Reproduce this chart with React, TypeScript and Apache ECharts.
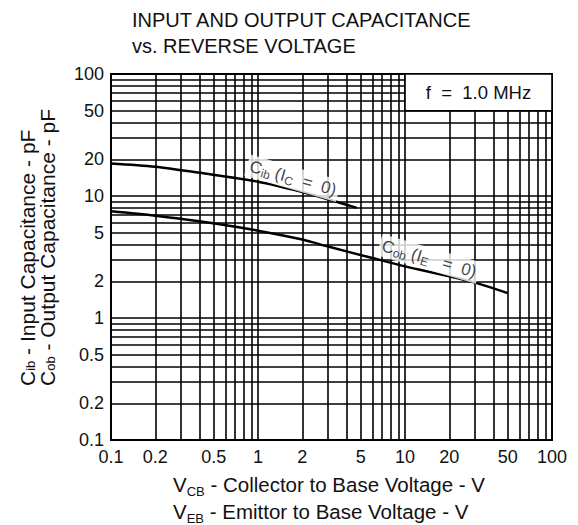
import { useEffect, useRef } from "react";
import * as echarts from "echarts";

// ---- data ----
const titleText = "INPUT AND OUTPUT CAPACITANCE\nvs. REVERSE VOLTAGE";
const tickLabelValues = [0.1, 0.2, 0.5, 1, 2, 5, 10, 20, 50, 100];
const gridValues = [
  0.1, 0.2, 0.3, 0.4, 0.5, 0.6, 0.7, 0.8, 0.9,
  1, 2, 3, 4, 5, 6, 7, 8, 9,
  10, 20, 30, 40, 50, 60, 70, 80, 90, 100,
];
const cibVoltage = [0.1, 0.2, 0.4, 1, 2, 3, 4.7];
const cibCap = [18.5, 17.4, 15.5, 13.1, 10.8, 9.4, 8.0];
const cobVoltage = [0.1, 0.2, 0.4, 1, 2, 3, 6, 10, 20, 30, 50];
const cobCap = [7.5, 6.9, 6.2, 5.2, 4.4, 3.85, 3.1, 2.65, 2.2, 1.95, 1.6];
const cibLabelAt = [1.73, 14.0];
const cobLabelAt = [14.6, 3.05];
const freqBoxFrom = [10, 50];
const freqBoxTo = [100, 100];
const freqLabel = "f  =  1.0 MHz";
const xTitle = "V{s|CB} - Collector to Base Voltage - V\nV{s|EB} - Emittor to Base Voltage - V";
const yTitle = "C{s|ib} - Input Capacitance - pF\nC{s|ob} - Output Capacitance - pF";
const cibLabel = "C{s|ib} (I{s|C}  =  0)";
const cobLabel = "C{s|ob} (I{s|E}   =  0)";

const FONT = "'Liberation Sans', Arial, Helvetica, sans-serif";

export default function App() {
  const ref = useRef<HTMLDivElement>(null);
  useEffect(() => {
    if (!ref.current) return;
    const chart = echarts.init(ref.current, null, { renderer: "svg" });
    const zip = (xs: number[], ys: number[]) => xs.map((x, i) => [x, ys[i]]);
    const axisCommon = (labelMargin: number) => ({
      type: "log" as const,
      logBase: 10,
      min: 0.1,
      max: 100,
      axisLine: { show: true, onZero: false, lineStyle: { color: "#000", width: 2 } },
      axisTick: { show: false, customValues: gridValues },
      minorTick: { show: false },
      axisLabel: {
        customValues: tickLabelValues,
        formatter: (v: number) => String(v),
        margin: labelMargin,
        fontSize: 18,
        color: "#111",
        fontFamily: FONT,
      },
      splitLine: { show: true, lineStyle: { color: "#000", width: 1.6 } },
    });
    const subRich = {
      s: { fontSize: 12, fontFamily: FONT, color: "#111", lineHeight: 20, verticalAlign: "bottom" },
    };
    chart.setOption({
      animation: false,
      backgroundColor: "#fff",
      title: {
        text: titleText,
        left: 132,
        top: 7,
        padding: 0,
        textStyle: { fontSize: 20, fontWeight: "normal", color: "#111", lineHeight: 26, fontFamily: FONT },
      },
      grid: {
        left: 111,
        right: 26,
        top: 74,
        bottom: 85,
        show: true,
        borderColor: "#000",
        borderWidth: 2,
        backgroundColor: "#fff",
        containLabel: false,
      },
      xAxis: axisCommon(8),
      yAxis: axisCommon(7),
      graphic: [
        {
          type: "text",
          x: 173,
          y: 471,
          style: {
            text: xTitle,
            fontSize: 20.5,
            fontFamily: FONT,
            fill: "#111",
            lineHeight: 27,
            align: "left",
            verticalAlign: "top",
            textAlign: "left",
            textVerticalAlign: "top",
            rich: {
              s: { fontSize: 13, fontFamily: FONT, fill: "#111", lineHeight: 23, verticalAlign: "bottom" },
            },
          },
        },
        {
          type: "text",
          x: 37,
          y: 386,
          rotation: Math.PI / 2,
          style: {
            text: yTitle,
            fontSize: 21,
            fontFamily: FONT,
            fill: "#111",
            lineHeight: 20,
            align: "left",
            verticalAlign: "middle",
            textAlign: "left",
            textVerticalAlign: "middle",
            rich: {
              s: { fontSize: 13, fontFamily: FONT, fill: "#111", lineHeight: 17, verticalAlign: "bottom" },
            },
          },
        },
      ],
      series: [
        {
          name: "Cib",
          type: "line",
          data: zip(cibVoltage, cibCap),
          smooth: 0.3,
          symbol: "none",
          lineStyle: { color: "#000", width: 2.5 },
          z: 3,
        },
        {
          name: "Cob",
          type: "line",
          data: zip(cobVoltage, cobCap),
          smooth: 0.3,
          symbol: "none",
          lineStyle: { color: "#000", width: 2.5 },
          z: 3,
          markArea: {
            silent: true,
            itemStyle: { color: "#fff", borderColor: "#000", borderWidth: 1.6, opacity: 1 },
            label: {
              show: true,
              position: "inside",
              formatter: freqLabel,
              fontSize: 18.5,
              color: "#111",
              fontFamily: FONT,
            },
            data: [[{ coord: freqBoxFrom }, { coord: freqBoxTo }]],
          },
        },
        {
          name: "labels",
          type: "scatter",
          symbolSize: 1,
          itemStyle: { color: "rgba(0,0,0,0)" },
          z: 5,
          silent: true,
          label: {
            show: true,
            position: "inside",
            rotate: -16,
            color: "#111",
            fontSize: 17,
            fontFamily: FONT,
            backgroundColor: "#fff",
            padding: [1, 3],
            rich: subRich,
          },
          data: [
            { value: cibLabelAt, label: { formatter: cibLabel } },
            { value: cobLabelAt, label: { formatter: cobLabel } },
          ],
        },
      ],
    });
    return () => chart.dispose();
  }, []);
  return (
    <div
      ref={ref}
      style={{ position: "fixed", left: 0, top: 0, width: 578, height: 525, background: "#fff" }}
    />
  );
}
